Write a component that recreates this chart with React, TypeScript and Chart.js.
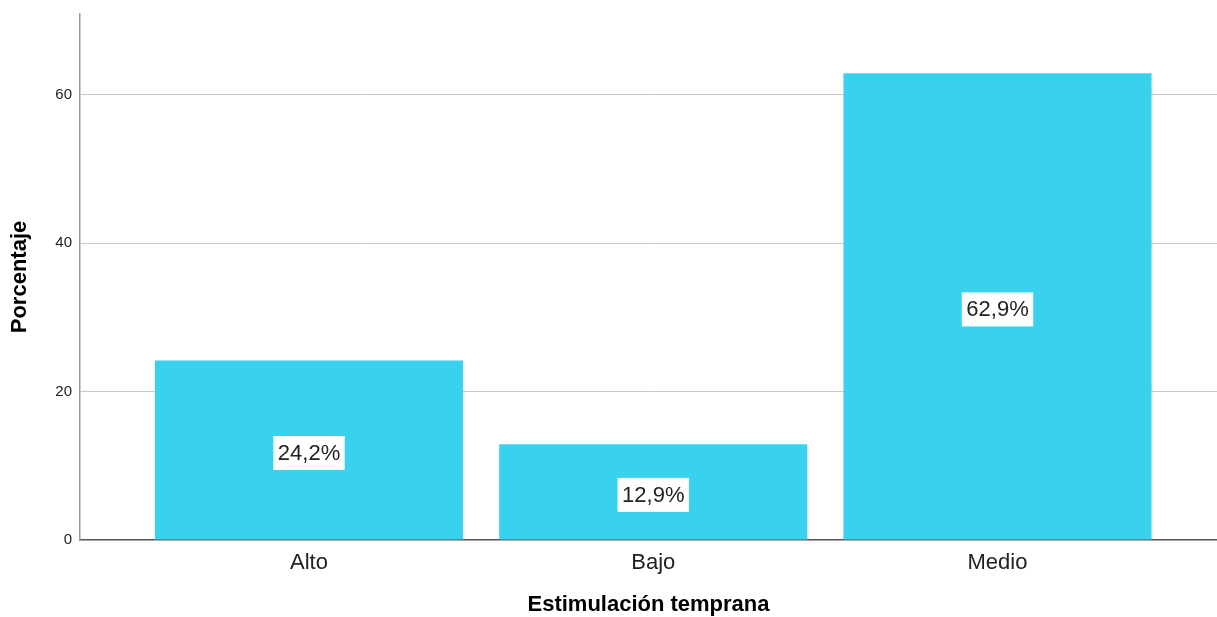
import React, { useEffect, useRef } from "react";
import { Chart, registerables } from "chart.js";

Chart.register(...registerables);

const categories = ["Alto", "Bajo", "Medio"];
const percentages = [24.2, 12.9, 62.9];
const yTickValues = [0, 20, 40, 60];
const xTitle = "Estimulación temprana";
const yTitle = "Porcentaje";

const FONT = '"Liberation Sans", Arial, Helvetica, sans-serif';

const labelPlugin = {
  id: "barLabels",
  afterDatasetsDraw(chart: any) {
    const ctx = chart.ctx;
    const meta = chart.getDatasetMeta(0);
    ctx.save();
    ctx.font = `22px ${FONT}`;
    ctx.textAlign = "center";
    ctx.textBaseline = "middle";
    meta.data.forEach((bar: any, i: number) => {
      const { x, y, base } = bar.getProps(["x", "y", "base"], true);
      const cy = (y + base) / 2 + 3;
      const text = percentages[i].toFixed(1).replace(".", ",") + "%";
      const w = ctx.measureText(text).width + 9;
      const h = 34;
      ctx.fillStyle = "#ffffff";
      ctx.fillRect(x - w / 2, cy - h / 2, w, h);
      ctx.fillStyle = "#222222";
      ctx.fillText(text, x, cy + 1);
    });
    ctx.restore();
  },
};

export default function App() {
  const canvasRef = useRef<HTMLCanvasElement | null>(null);

  useEffect(() => {
    if (!canvasRef.current) return;
    Chart.defaults.font.family = FONT;
    const chart = new Chart(canvasRef.current, {
      type: "bar",
      data: {
        datasets: [
          {
            data: percentages.map((v, i) => ({ x: i, y: v })),
            backgroundColor: "#38d2ee",
            borderWidth: 0,
            barPercentage: 0.895,
            categoryPercentage: 1,
          },
        ],
      },
      options: {
        responsive: false,
        animation: false,
        devicePixelRatio: 1,
        layout: { padding: { top: 14, left: 0, right: 0, bottom: 0 } },
        plugins: {
          legend: { display: false },
          tooltip: { enabled: false },
        },
        scales: {
          x: {
            type: "linear",
            offset: false,
            min: -0.6652,
            max: 2.6376,
            afterBuildTicks: (scale: any) => {
              scale.ticks = categories.map((_, i) => ({ value: i }));
            },
            afterFit: (scale: any) => {
              scale.height = 77;
              scale.paddingLeft = 0;
              scale.paddingRight = 0;
            },
            ticks: {
              autoSkip: false,
              maxRotation: 0,
              padding: 10,
              color: "#222222",
              font: { size: 22 },
              callback: (v: any) => categories[v] ?? "",
            },
            grid: { display: false, drawTicks: false, offset: false },
            border: { display: true, color: "#555555", width: 1.5 },
            title: {
              display: true,
              text: xTitle,
              color: "#000000",
              font: { size: 22, weight: "bold", lineHeight: 1 },
              padding: { top: 0, bottom: 1 },
            },
          },
          y: {
            min: 0,
            max: 70.9,
            afterBuildTicks: (scale: any) => {
              scale.ticks = yTickValues.map((v) => ({ value: v }));
            },
            afterFit: (scale: any) => {
              scale.width = 80;
              scale.paddingTop = 0;
              scale.paddingBottom = 0;
            },
            ticks: {
              padding: 8,
              color: "#222222",
              font: { size: 15 },
            },
            grid: {
              drawTicks: false,
              lineWidth: 1,
              color: (c: any) =>
                c.tick && c.tick.value === 0 ? "rgba(0,0,0,0)" : "#c8c8c8",
            },
            border: { display: true, color: "#999999", width: 1.5 },
            title: {
              display: true,
              text: yTitle,
              color: "#000000",
              font: { size: 22, weight: "bold", lineHeight: 1 },
              padding: { top: 9, bottom: 0 },
            },
          },
        },
      },
      plugins: [labelPlugin],
    } as any);
    return () => chart.destroy();
  }, []);

  return (
    <div style={{ position: "absolute", left: 0, top: 0, width: 1217, height: 617, background: "#fff" }}>
      <canvas ref={canvasRef} width={1217} height={617} />
    </div>
  );
}
